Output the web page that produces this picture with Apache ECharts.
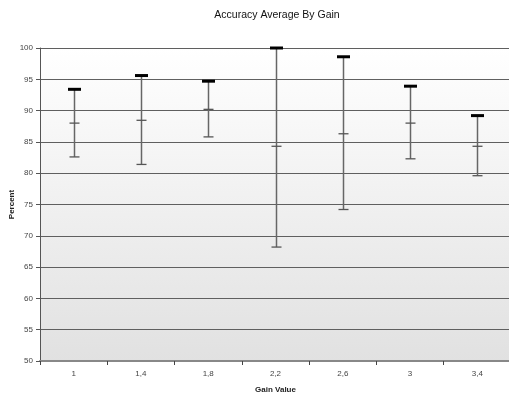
<!DOCTYPE html>
<html>
<head>
<meta charset="utf-8">
<script src="https://cdn.jsdelivr.net/npm/echarts@6/dist/echarts.min.js"></script>
<style>
  html, body { margin: 0; padding: 0; background: #fff; }
  #chart { width: 509px; height: 394px; }
</style>
</head>
<body>
<div id="chart"></div>
<script>
// gain values and accuracy stats
const gains = ['1', '1,4', '1,8', '2,2', '2,6', '3', '3,4'];
const maxVals = [93.4, 95.6, 94.7, 100, 98.6, 93.9, 89.2];
const avgVals = [88.0, 88.45, 90.2, 84.3, 86.3, 88.0, 84.3];
const minVals = [82.6, 81.4, 85.8, 68.2, 74.2, 82.3, 79.6];

const seriesData = gains.map((g, i) => [i, minVals[i], avgVals[i], maxVals[i]]);

const chart = echarts.init(document.getElementById('chart'));
chart.setOption({
  animation: false,
  title: {
    text: 'Accuracy Average By Gain',
    left: 272,
    top: 5,
    textAlign: 'center',
    textStyle: { fontFamily: 'Liberation Sans', fontSize: 10.5, fontWeight: 'normal', color: '#111' }
  },
  grid: {
    left: 40, right: -2, top: 48, bottom: 33,
    outerBoundsMode: 'none',
    containLabel: false,
    show: true,
    borderWidth: 0,
    backgroundColor: new echarts.graphic.LinearGradient(0, 0, 0, 1, [
      { offset: 0, color: '#ffffff' },
      { offset: 1, color: '#e1e1e1' }
    ])
  },
  xAxis: {
    type: 'category',
    data: gains,
    name: 'Gain Value',
    nameLocation: 'middle',
    nameGap: 25,
    nameMoveOverlap: false,
    nameTextStyle: { fontFamily: 'Liberation Sans', fontSize: 8, fontWeight: 'bold', color: '#222' },
    axisLine: { lineStyle: { color: '#888', width: 2 } },
    axisTick: { show: true, length: 4, lineStyle: { color: '#444' } },
    axisLabel: { fontFamily: 'Liberation Sans', fontSize: 8, color: '#444', margin: 9 }
  },
  yAxis: {
    type: 'value',
    min: 50, max: 100, interval: 5,
    name: 'Percent',
    nameLocation: 'middle',
    nameGap: 24,
    nameMoveOverlap: false,
    nameTextStyle: { fontFamily: 'Liberation Sans', fontSize: 8, fontWeight: 'bold', color: '#222' },
    axisLine: { show: true, lineStyle: { color: '#555', width: 1 } },
    axisTick: { show: true, length: 4, lineStyle: { color: '#555' } },
    axisLabel: { fontFamily: 'Liberation Sans', fontSize: 8, color: '#444', margin: 7 },
    splitLine: { lineStyle: { color: '#5f5f5f', width: 1 } }
  },
  series: [{
    type: 'custom',
    data: seriesData,
    encode: { x: 0, y: [1, 2, 3] },
    renderItem: function (params, api) {
      const x = api.value(0);
      const pMin = api.coord([x, api.value(1)]);
      const pAvg = api.coord([x, api.value(2)]);
      const pMax = api.coord([x, api.value(3)]);
      const cx = Math.round(pMin[0]) + 0.5;
      return {
        type: 'group',
        children: [
          { type: 'line', shape: { x1: cx, y1: pMax[1], x2: cx, y2: pMin[1] },
            style: { stroke: '#666', lineWidth: 1.5 } },
          { type: 'line', shape: { x1: cx - 5, y1: pAvg[1], x2: cx + 5, y2: pAvg[1] },
            style: { stroke: '#555', lineWidth: 1.3 } },
          { type: 'line', shape: { x1: cx - 5, y1: pMin[1], x2: cx + 5, y2: pMin[1] },
            style: { stroke: '#555', lineWidth: 1.3 } },
          { type: 'line', shape: { x1: cx - 6.5, y1: pMax[1], x2: cx + 6.5, y2: pMax[1] },
            style: { stroke: '#000', lineWidth: 3 } }
        ]
      };
    }
  }]
});
window.addEventListener('resize', function () {
  chart.resize();
});
</script>
</body>
</html>
